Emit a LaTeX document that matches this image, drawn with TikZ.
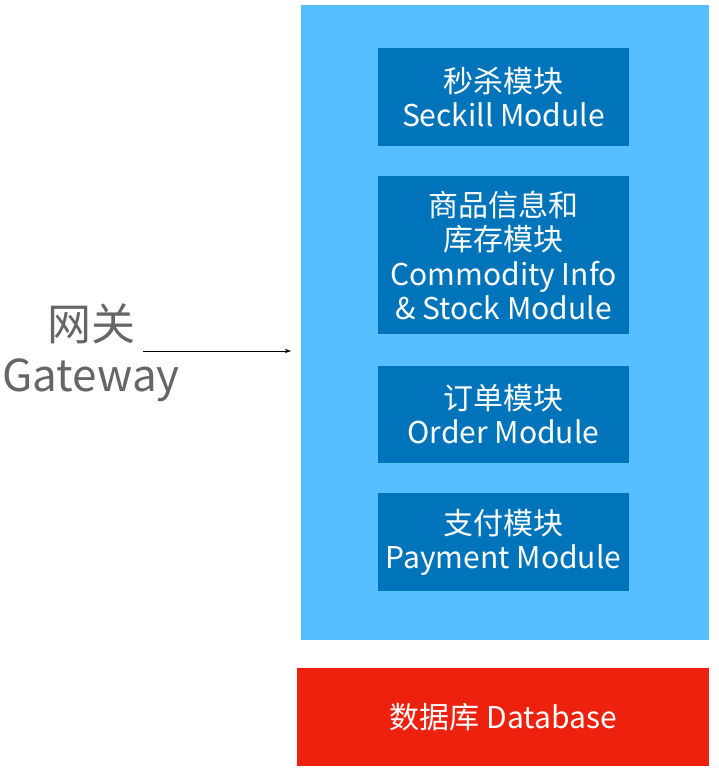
\documentclass[tikz,border=0pt]{standalone}
\usepackage{fontspec}
\setmainfont{Noto Sans CJK SC}
\usetikzlibrary{positioning,arrows.meta}

\definecolor{bleuclair}{RGB}{86,191,255}
\definecolor{bleufonce}{RGB}{0,116,186}
\definecolor{rouge}{RGB}{237,33,14}
\definecolor{gris}{RGB}{102,102,102}

\begin{document}
\begin{tikzpicture}[x=1pt,y=-1pt,
    module/.style={fill=bleufonce, text=white, align=center, inner sep=0pt,
        minimum width=251pt, font=\fontsize{30}{34.3}\selectfont}]
\useasboundingbox (0,0) rectangle (718,773);

% Cadre des services
\node[fill=bleuclair, anchor=north west, inner sep=0pt,
    minimum width=408pt, minimum height=635pt] (services) at (301,5) {};

% Modules
\node[module, minimum height=98pt] (seckill) at (503.5,97) {秒杀模块\\Seckill Module};
\node[module, minimum height=158pt, below=30pt of seckill] (commodity)
    {商品信息和\\库存模块\\Commodity Info\\\& Stock Module};
\node[module, minimum height=97pt, below=31pt of commodity] (order) {订单模块\\Order Module};
\node[module, minimum height=98pt, below=30pt of order] (payment) {支付模块\\Payment Module};

% Base de données
\node[fill=rouge, text=white, anchor=north west, inner sep=0pt,
    minimum width=412pt, minimum height=98pt,
    font=\fontsize{30}{34}\selectfont] (database) at (297,668) {数据库 Database};

% Passerelle
\node[text=gris, align=center, inner sep=0pt,
    font=\fontsize{44}{51}\selectfont] (gateway) at (91,353) {网关\\Gateway};
\coordinate (depart) at (143,351);
\draw[-{Stealth[length=6pt,width=4pt]}, shorten >=10pt] (depart) -- (depart -| services.west);
\end{tikzpicture}
\end{document}
